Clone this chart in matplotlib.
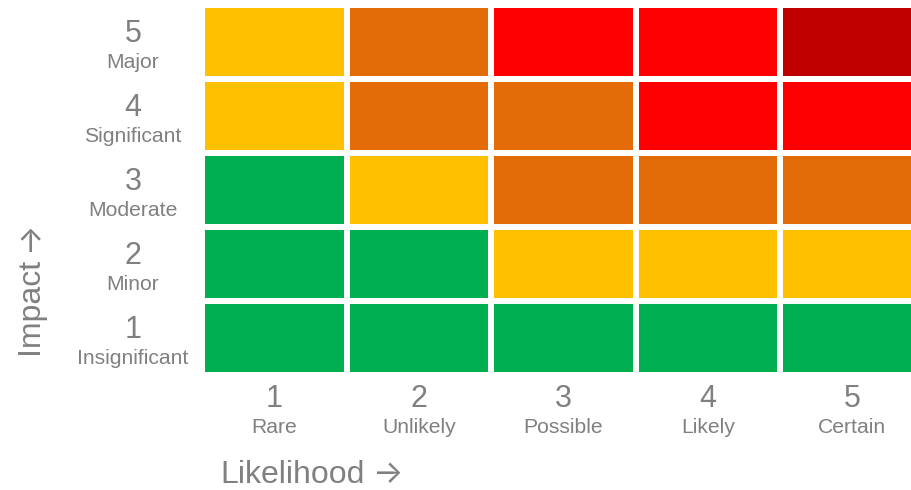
import matplotlib
matplotlib.use("Agg")
import matplotlib.pyplot as plt
from matplotlib.patches import Rectangle
from matplotlib.transforms import offset_copy, blended_transform_factory

plt.rcParams['font.family'] = ['Liberation Sans', 'DejaVu Sans']

likelihood_nums = ["1", "2", "3", "4", "5"]
likelihood_names = ["Rare", "Unlikely", "Possible", "Likely", "Certain"]
impact_nums = ["1", "2", "3", "4", "5"]
impact_names = ["Insignificant", "Minor", "Moderate", "Significant", "Major"]
# risk level per cell: rows = impact 1..5 (bottom to top), cols = likelihood 1..5
risk = [
    [1, 1, 1, 1, 1],
    [1, 1, 2, 2, 2],
    [1, 2, 3, 3, 3],
    [2, 3, 3, 4, 4],
    [2, 3, 4, 4, 5],
]
level_colors = {1: "#00B050", 2: "#FFC000", 3: "#E36C09", 4: "#FF0000", 5: "#C00000"}

W, H = 911, 490
fig = plt.figure(figsize=(W / 100, H / 100), dpi=100)
pitch_x, pitch_y = 144.5, 74.0
left_px, bottom_px = 205.0, 372.0
ax = fig.add_axes([left_px / W, 1 - bottom_px / H, 5 * pitch_x / W, 5 * pitch_y / H])
ax.set_xlim(0, 5)
ax.set_ylim(0, 5)
ax.axis("off")
gx = 6.0 / pitch_x
gy = 6.0 / pitch_y

for r, row in enumerate(risk):
    for c, lvl in enumerate(row):
        ax.add_patch(Rectangle((c, r), 1 - gx, 1 - gy, facecolor=level_colors[lvl],
                               edgecolor="none", clip_on=False))

gray = "#808080"
num_fs, name_fs, title_fs = 22, 15.2, 23
# x labels
bt = blended_transform_factory(ax.transData, ax.transAxes)
for i, (n, name) in enumerate(zip(likelihood_nums, likelihood_names)):
    xc = i + (1 - gx) / 2
    ax.text(xc, 0, n, transform=offset_copy(bt, fig=fig, y=-34.5, units='dots'),
            ha='center', va='baseline', fontsize=num_fs, color=gray)
    ax.text(xc, 0, name, transform=offset_copy(bt, fig=fig, y=-60.5, units='dots'),
            ha='center', va='baseline', fontsize=name_fs, color=gray)

# y labels
for j, (n, name) in enumerate(zip(impact_nums, impact_names)):
    yc = j + (1 - gy) / 2
    y_fig = ax.transData.transform((0, yc))[1]
    x_fig = 133.0
    fig.text(x_fig / W, (y_fig - 0.5) / H, n, ha='center', va='baseline',
             fontsize=num_fs, color=gray)
    fig.text(x_fig / W, (y_fig - 26) / H, name, ha='center', va='baseline',
             fontsize=name_fs, color=gray)

arrow_font = ['Inter', 'DejaVu Sans']
fig.text(220 / W, 1 - 483 / H, "Likelihood", ha='left', va='baseline',
         fontsize=title_fs, color=gray)
fig.text(388 / W, 1 - 483 / H, "\u2192", ha='center', va='baseline',
         fontsize=title_fs, color=gray, family=arrow_font)
fig.text(38 / W, 1 - 354 / H, "Impact", ha='left', va='baseline', rotation=90,
         rotation_mode='anchor', fontsize=title_fs, color=gray)
fig.text(38 / W, 1 - 235.5 / H, "\u2192", ha='center', va='baseline', rotation=90,
         rotation_mode='anchor', fontsize=title_fs, color=gray, family=arrow_font)

fig.savefig("out.png", dpi=100)
